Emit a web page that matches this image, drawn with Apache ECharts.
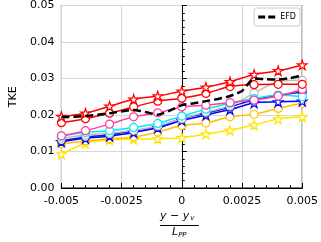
<!DOCTYPE html>
<html>
<head>
<meta charset="utf-8">
<script src="https://cdn.jsdelivr.net/npm/echarts@6/dist/echarts.min.js"></script>
<style>html,body{margin:0;padding:0;background:#fff;}#c{width:321px;height:242px;}</style>
</head>
<body>
<div id="c"></div>
<script>
// ---- data ----
const xs = [-0.005, -0.004, -0.003, -0.002, -0.001, 0, 0.001, 0.002, 0.003, 0.004, 0.005];
const redStar    = [0.0196, 0.0205, 0.0224, 0.0243, 0.0252, 0.0265, 0.0276, 0.0291, 0.0311, 0.0321, 0.0337];
const redCircle  = [0.0179, 0.0190, 0.0205, 0.0222, 0.0238, 0.0246, 0.0259, 0.0278, 0.0283, 0.0284, 0.0284];
const pink       = [0.0143, 0.0157, 0.0175, 0.0195, 0.0206, 0.0222, 0.0227, 0.0234, 0.0241, 0.0252, 0.0270];
const cyan       = [0.0142, 0.0152, 0.0157, 0.0166, 0.0177, 0.0197, 0.0216, 0.0232, 0.0245, 0.0254, 0.0250];
const grey       = [0.0136, 0.0145, 0.0150, 0.0158, 0.0170, 0.0190, 0.0208, 0.0225, 0.0260, 0.0291, 0.0295];
const blueCircle = [0.0130, 0.0139, 0.0146, 0.0156, 0.0168, 0.0190, 0.0205, 0.0222, 0.0242, 0.0254, 0.0263];
const blueStar   = [0.0127, 0.0136, 0.0142, 0.0152, 0.0165, 0.0185, 0.0200, 0.0215, 0.0233, 0.0236, 0.0238];
const orange     = [0.0121, 0.0129, 0.0135, 0.0140, 0.0153, 0.0171, 0.0178, 0.0195, 0.0202, 0.0218, 0.0232];
const yellow     = [0.0093, 0.0122, 0.0132, 0.0134, 0.0135, 0.0138, 0.0148, 0.0158, 0.0173, 0.0189, 0.0195];
const efdX = [-0.005, -0.004, -0.003, -0.002, -0.0015, -0.001, -0.0005, 0, 0.0005, 0.001, 0.0015, 0.002, 0.0025, 0.003, 0.0035, 0.004, 0.0045, 0.005];
const efdY = [0.0194, 0.0197, 0.0205, 0.0214, 0.0208, 0.0201, 0.0212, 0.0227, 0.0232, 0.0238, 0.0244, 0.0252, 0.0266, 0.0300, 0.0298, 0.0297, 0.0301, 0.0308];
const xTickLabels = ['-0.005', '-0.0025', '0', '0.0025', '0.005'];
const yTickLabels = ['0.00', '0.01', '0.02', '0.03', '0.04', '0.05'];

// ---- chart ----
const STAR = 'path://M100,0L122.45,69.1L195.1,69.1L136.3,111.8L158.8,180.9L100,138.2L41.2,180.9L63.7,111.8L4.9,69.1L77.55,69.1Z';
const DASH_ICON = 'path://M0,0h7v3h-7zM10,0h7v3h-7z';
const FONT = 'DejaVu Sans';
function pairs(xv, yv) { return xv.map((x, i) => [x, yv[i]]); }
function mk(name, yv, color, symbol) {
  return {
    name: name, type: 'line', data: pairs(xs, yv), smooth: 0.3,
    symbol: symbol === 'star' ? STAR : 'circle',
    symbolSize: symbol === 'star' ? 9.5 : 8,
    showSymbol: true,
    lineStyle: { color: color, width: 1.5 },
    itemStyle: { color: '#fff', borderColor: color, borderWidth: 1.2 },
    emphasis: { disabled: true }, z: 2
  };
}
const series = [
  mk('yellow', yellow, '#ffe600', 'star'),
  mk('orange', orange, '#ffc000', 'circle'),
  mk('blueStar', blueStar, '#0000ff', 'star'),
  mk('blueCircle', blueCircle, '#1515d0', 'circle'),
  mk('grey', grey, '#bdbdbd', 'circle'),
  mk('cyan', cyan, '#00e8ff', 'circle'),
  mk('pink', pink, '#ff3fa0', 'circle'),
  mk('redCircle', redCircle, '#ff0000', 'circle'),
  mk('redStar', redStar, '#ff0000', 'star'),
  {
    name: 'EFD', type: 'line', data: pairs(efdX, efdY), smooth: 0.2, symbol: 'none',
    lineStyle: { color: '#000', width: 2.5, type: [8, 4] },
    itemStyle: { color: '#000' }, emphasis: { disabled: true }, z: 3
  }
];

const chart = echarts.init(document.getElementById('c'), null, { renderer: 'canvas' });
chart.setOption({
  animation: false,
  backgroundColor: '#fff',
  grid: { left: 56, right: 18, top: 5, bottom: 54, show: true, borderColor: '#000', borderWidth: 1, backgroundColor: 'transparent' },
  legend: {
    data: [{ name: 'EFD', icon: DASH_ICON }], right: 21, top: 8, orient: 'vertical',
    itemWidth: 17, itemHeight: 3, padding: [5, 4, 5, 4],
    borderColor: '#cccccc', borderWidth: 1, borderRadius: 2, backgroundColor: '#fff',
    itemStyle: { color: '#000', borderWidth: 0 }, lineStyle: { width: 0 },
    textStyle: { fontFamily: FONT, fontSize: 8, color: '#000' }
  },
  xAxis: {
    type: 'value', min: -0.005, max: 0.005, interval: 0.0025,
    axisLine: { show: true, lineStyle: { color: '#000', width: 1 } },
    axisTick: { show: true, inside: true, length: 5, lineStyle: { color: '#000' } },
    minorTick: { show: true, splitNumber: 5, length: 3, lineStyle: { color: '#000' } },
    splitLine: { show: true, lineStyle: { color: '#d6d6d6', width: 1 } },
    axisLabel: { margin: 8, fontFamily: FONT, fontSize: 11, color: '#000', formatter: (v, i) => xTickLabels[i] }
  },
  yAxis: {
    type: 'value', min: 0, max: 0.05, interval: 0.01,
    name: 'TKE', nameLocation: 'middle', nameGap: 40,
    nameTextStyle: { fontFamily: FONT, fontSize: 11, color: '#000' },
    axisLine: { show: true, lineStyle: { color: '#000', width: 1 } },
    axisTick: { show: true, inside: true, length: 5, lineStyle: { color: '#000' } },
    minorTick: { show: true, splitNumber: 5, length: 3, lineStyle: { color: '#000' } },
    splitLine: { show: true, lineStyle: { color: '#d6d6d6', width: 1 } },
    axisLabel: { margin: 7, fontFamily: FONT, fontSize: 11, color: '#000', formatter: (v, i) => yTickLabels[i] }
  },
  graphic: [
    { type: 'text', left: 160, top: 211, style: { text: '{a|y − y}{b|v}', rich: {
      a: { fontFamily: FONT, fontStyle: 'italic', fontSize: 11, fill: '#000', verticalAlign: 'bottom' },
      b: { fontFamily: FONT, fontStyle: 'italic', fontSize: 7, fill: '#000', verticalAlign: 'bottom', padding: [0, 0, 0, 1] } } } },
    { type: 'line', shape: { x1: 160, y1: 225.5, x2: 199, y2: 225.5 }, style: { stroke: '#000', lineWidth: 1 } },
    { type: 'text', left: 172, top: 227, style: { text: '{a|L}{b|PP}', rich: {
      a: { fontFamily: FONT, fontStyle: 'italic', fontSize: 11, fill: '#000' },
      b: { fontFamily: FONT, fontStyle: 'italic', fontSize: 7, fill: '#000', padding: [5, 0, 0, 0] } } } }
  ],
  series: series
});
</script>
</body>
</html>
